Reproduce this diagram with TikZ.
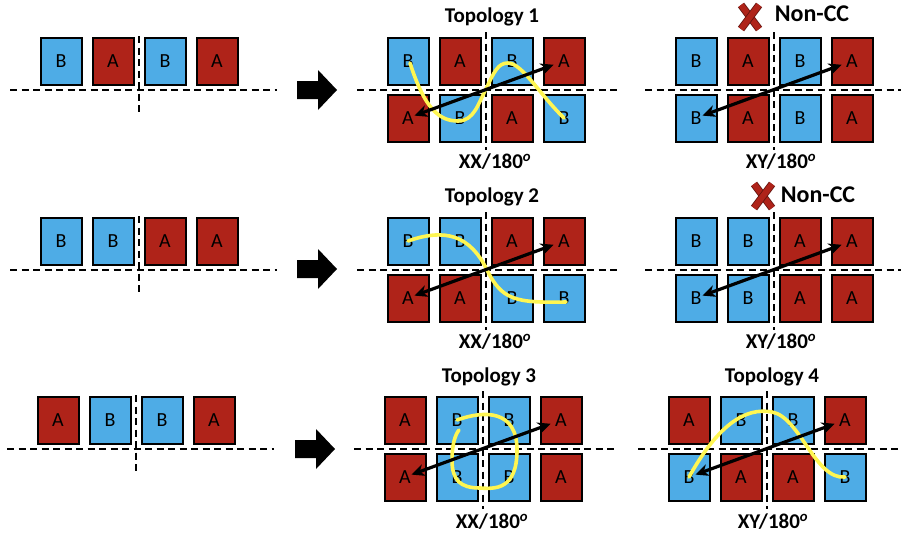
\documentclass[tikz,border=0pt]{standalone}
\usepackage{fontspec}
\setmainfont{Carlito}
\usetikzlibrary{arrows.meta}
\definecolor{cellblue}{RGB}{78,172,230}
\definecolor{cellred}{RGB}{175,35,25}
\definecolor{swapyellow}{RGB}{255,246,82}
\tikzset{
    cellA/.style={draw, rectangle, fill=cellred, line width=2pt, minimum width=41pt, minimum height=47pt, inner sep=0pt, font=\fontsize{20}{20}\selectfont},
    cellB/.style={cellA, fill=cellblue},
    cutline/.style={draw, line width=2pt, dash pattern=on 7pt off 4.5pt},
    pairarrow/.style={draw, line width=3.2pt, {Stealth[length=13pt,width=12pt]}-{Stealth[length=13pt,width=12pt]}, shorten <=7pt, shorten >=11pt},
    swapline/.style={draw=swapyellow, line width=3.6pt, line cap=round},
    nogo/.style={draw=cellred!55!black, line width=0.8pt, double=cellred, double distance=6pt},
    toptext/.style={font=\fontsize{21}{21}\selectfont\bfseries},
    bottext/.style={font=\fontsize{21}{21}\selectfont\bfseries},
    crosstext/.style={font=\fontsize{24}{24}\selectfont\bfseries}
}
\begin{document}
\begin{tikzpicture}[x=1pt,y=-1pt]
    \useasboundingbox (0,0) rectangle (901,538);

    % row 1
    \draw[cutline] (10,90) -- (277,90);
    \draw[cutline] (139,36) -- (139,114);
    \foreach \lt [count=\i] in {B,A,B,A}
        \node[cell\lt] (p1t\i) at ({61+52*(\i-1)},61) {\lt};
    \fill (297,81) -- (318,81) -- (318,70) -- (337,90) -- (318,110) -- (318,99) -- (297,99) -- cycle;

    \draw[cutline] (357,89.5) -- (620,89.5);
    \draw[cutline] (486,32) -- (486,150);
    \foreach \lt [count=\i] in {B,A,B,A}
        \node[cell\lt] (m1t\i) at ({408+52*(\i-1)},61) {\lt};
    \foreach \lt [count=\i] in {A,B,A,B}
        \node[cell\lt] (m1b\i) at ({408+52*(\i-1)},118) {\lt};
    \node[toptext] (m1title) at (492,17) {Topology 1};
    \node[bottext] (m1label) at (495,162) {XX/180\textsuperscript{\textit{o}}};
    \draw[swapline] (410,63) .. controls (425,110) and (440,121) .. (458,121) .. controls (474,121) and (478,104) .. (486,89) .. controls (494,72) and (498,63) .. (508,63) .. controls (522,63) and (540,95) .. (m1b4.center);
    \draw[pairarrow] (m1b1.center) -- (m1t4.center);

    \draw[cutline] (645,89.5) -- (901,89.5);
    \draw[cutline] (774,32) -- (774,150);
    \foreach \lt [count=\i] in {B,A,B,A}
        \node[cell\lt] (n1t\i) at ({696+52*(\i-1)},61) {\lt};
    \foreach \lt [count=\i] in {B,A,B,A}
        \node[cell\lt] (n1b\i) at ({696+52*(\i-1)},118) {\lt};
    \draw[nogo] (741,5) -- (759,29);
    \draw[nogo] (759,5) -- (741,29);
    \node[crosstext] (n1title) at (812,14) {Non-CC};
    \node[bottext] (n1label) at (781,162) {XY/180\textsuperscript{\textit{o}}};
    \draw[pairarrow] (n1b1.center) -- (n1t4.center);

    % row 2
    \draw[cutline] (10,270) -- (277,270);
    \draw[cutline] (139,216) -- (139,294);
    \foreach \lt [count=\i] in {B,B,A,A}
        \node[cell\lt] (p2t\i) at ({61+52*(\i-1)},241) {\lt};
    \fill (297,260) -- (318,260) -- (318,249) -- (337,269) -- (318,289) -- (318,278) -- (297,278) -- cycle;

    \draw[cutline] (357,269.5) -- (620,269.5);
    \draw[cutline] (486,212) -- (486,330);
    \foreach \lt [count=\i] in {B,B,A,A}
        \node[cell\lt] (m2t\i) at ({408+52*(\i-1)},241) {\lt};
    \foreach \lt [count=\i] in {A,A,B,B}
        \node[cell\lt] (m2b\i) at ({408+52*(\i-1)},298) {\lt};
    \node[toptext] (m2title) at (492,197) {Topology 2};
    \node[bottext] (m2label) at (495,342) {XX/180\textsuperscript{\textit{o}}};
    \draw[swapline] (m2t1.center) .. controls (445,228) and (470,235) .. (487,270) .. controls (502,300) and (515,303) .. (566,302);
    \draw[pairarrow] (m2b1.center) -- (m2t4.center);

    \draw[cutline] (645,269.5) -- (901,269.5);
    \draw[cutline] (774,212) -- (774,330);
    \foreach \lt [count=\i] in {B,B,A,A}
        \node[cell\lt] (n2t\i) at ({696+52*(\i-1)},241) {\lt};
    \foreach \lt [count=\i] in {B,B,A,A}
        \node[cell\lt] (n2b\i) at ({696+52*(\i-1)},298) {\lt};
    \draw[nogo] (754,184) -- (772,208);
    \draw[nogo] (772,184) -- (754,208);
    \node[crosstext] (n2title) at (818,195) {Non-CC};
    \node[bottext] (n2label) at (781,342) {XY/180\textsuperscript{\textit{o}}};
    \draw[pairarrow] (n2b1.center) -- (n2t4.center);

    % row 3
    \draw[cutline] (7,449) -- (274,449);
    \draw[cutline] (136,395) -- (136,473);
    \foreach \lt [count=\i] in {A,B,B,A}
        \node[cell\lt] (p3t\i) at ({58+52*(\i-1)},420) {\lt};
    \fill (295,440) -- (316,440) -- (316,429) -- (335,449) -- (316,469) -- (316,458) -- (295,458) -- cycle;

    \draw[cutline] (354,448.5) -- (617,448.5);
    \draw[cutline] (483,391) -- (483,509);
    \foreach \lt [count=\i] in {A,B,B,A}
        \node[cell\lt] (m3t\i) at ({405+52*(\i-1)},420) {\lt};
    \foreach \lt [count=\i] in {A,B,B,A}
        \node[cell\lt] (m3b\i) at ({405+52*(\i-1)},477) {\lt};
    \node[toptext] (m3title) at (489,377) {Topology 3};
    \node[bottext] (m3label) at (492,522) {XX/180\textsuperscript{\textit{o}}};
    \draw[swapline] (m3t2.center) .. controls (485,410) and (517,410) .. (517,450) .. controls (517,490) and (495,489) .. (480,488) .. controls (460,488) and (452,480) .. (452,460) .. controls (452,445) and (455,435) .. (459,430);
    \draw[pairarrow] (m3b1.center) -- (m3t4.center);

    \draw[cutline] (638,448.5) -- (901,448.5);
    \draw[cutline] (767,391) -- (767,509);
    \foreach \lt [count=\i] in {A,B,B,A}
        \node[cell\lt] (n3t\i) at ({689+52*(\i-1)},420) {\lt};
    \foreach \lt [count=\i] in {B,A,A,B}
        \node[cell\lt] (n3b\i) at ({689+52*(\i-1)},477) {\lt};
    \node[toptext] (n3title) at (772,377) {Topology 4};
    \node[bottext] (n3label) at (773,522) {XY/180\textsuperscript{\textit{o}}};
    \draw[swapline] (n3b1.center) .. controls (718,425) and (745,407) .. (772,412) .. controls (800,417) and (815,480) .. (n3b4.center);
    \draw[pairarrow] (n3b1.center) -- (n3t4.center);
\end{tikzpicture}
\end{document}
